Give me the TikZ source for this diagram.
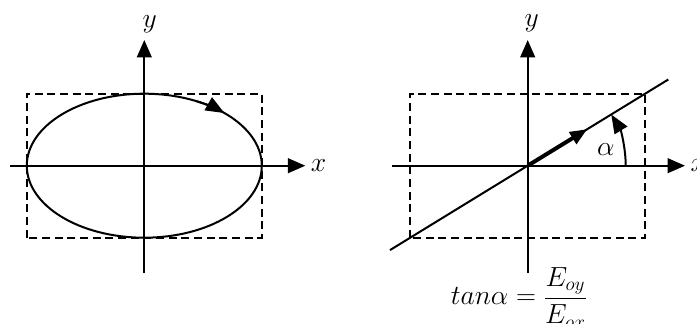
\documentclass[tikz,border=0pt]{standalone}
\usetikzlibrary{positioning, arrows.meta, calc}

\begin{document}
\begin{tikzpicture}[
    x=0.75pt, y=0.75pt,
    axis/.style={
        -{Triangle[length=13pt, width=11pt]},
        line width=1.5pt, color=black
    },
    frame/.style={
        dash pattern=on 6pt off 3.5pt, line width=1.3pt
    },
    curve/.style={line width=1.5pt},
    spin/.style={
        -{Triangle[length=14pt, width=11pt]},
        line width=1.5pt
    },
    vec/.style={
        -{Triangle[length=13pt, width=10pt]},
        line width=3pt
    },
    lbl/.style={font=\huge, inner sep=0pt}
]
\useasboundingbox (0,0) rectangle (697,324);

% --- origins ---
\coordinate (o1) at (144.3,158.3);
\coordinate (o2) at (527.7,158.3);

% --- left panel: elliptic polarisation ---
\draw[frame] ($(o1)+(-117.5,-72)$) rectangle ($(o1)+(117.5,72)$);
\draw[curve] (o1) ellipse [x radius=117.5, y radius=72];
\draw[spin] ($(o1)+(64:117.5 and 72)$)
    arc[start angle=64, end angle=47, x radius=117.5, y radius=72];

\coordinate (x1a) at ($(o1)+(-134,0)$);
\coordinate (x1b) at ($(o1)+(161,0)$);
\coordinate (y1a) at ($(o1)+(0,-107)$);
\coordinate (y1b) at ($(o1)+(0,125.7)$);
\draw[axis] (x1a) -- (x1b);
\draw[axis] (y1a) -- (y1b);
\node[lbl, right=4pt of x1b] (x1lbl) {$x$};
\node[lbl, above=5pt of y1b, xshift=4pt] (y1lbl) {$y$};

% --- right panel: linear polarisation ---
\draw[frame] ($(o2)+(-117.5,-72)$) rectangle ($(o2)+(117.5,72)$);
\coordinate (la) at ($(o2)+(-137.7,-84.4)$);
\coordinate (lb) at ($(o2)+(140.6,86.2)$);
\draw[curve] (la) -- (lb);
\draw[vec] (o2) -- ($(o2)+(31.5:70)$);
\draw[spin] ($(o2)+(98,0)$) arc[start angle=0, end angle=31.5, radius=98];
\node[lbl] (alpha) at ($(o2)+(78,15.7)$) {$\alpha$};

\coordinate (x2a) at ($(o2)+(-136,0)$);
\coordinate (x2b) at ($(o2)+(157.3,0)$);
\coordinate (y2a) at ($(o2)+(0,-107.3)$);
\coordinate (y2b) at ($(o2)+(0,125.7)$);
\draw[axis] (x2a) -- (x2b);
\draw[axis] (y2a) -- (y2b);
\node[lbl, right=4pt of x2b] (x2lbl) {$x$};
\node[lbl, above=6pt of y2b, xshift=3pt] (y2lbl) {$y$};

% --- angle formula ---
\node[lbl, anchor=base] (tanlbl) at (519,19)
    {$\displaystyle tan\alpha = \frac{E_{oy}}{E_{ox}}$};

\end{tikzpicture}
\end{document}
